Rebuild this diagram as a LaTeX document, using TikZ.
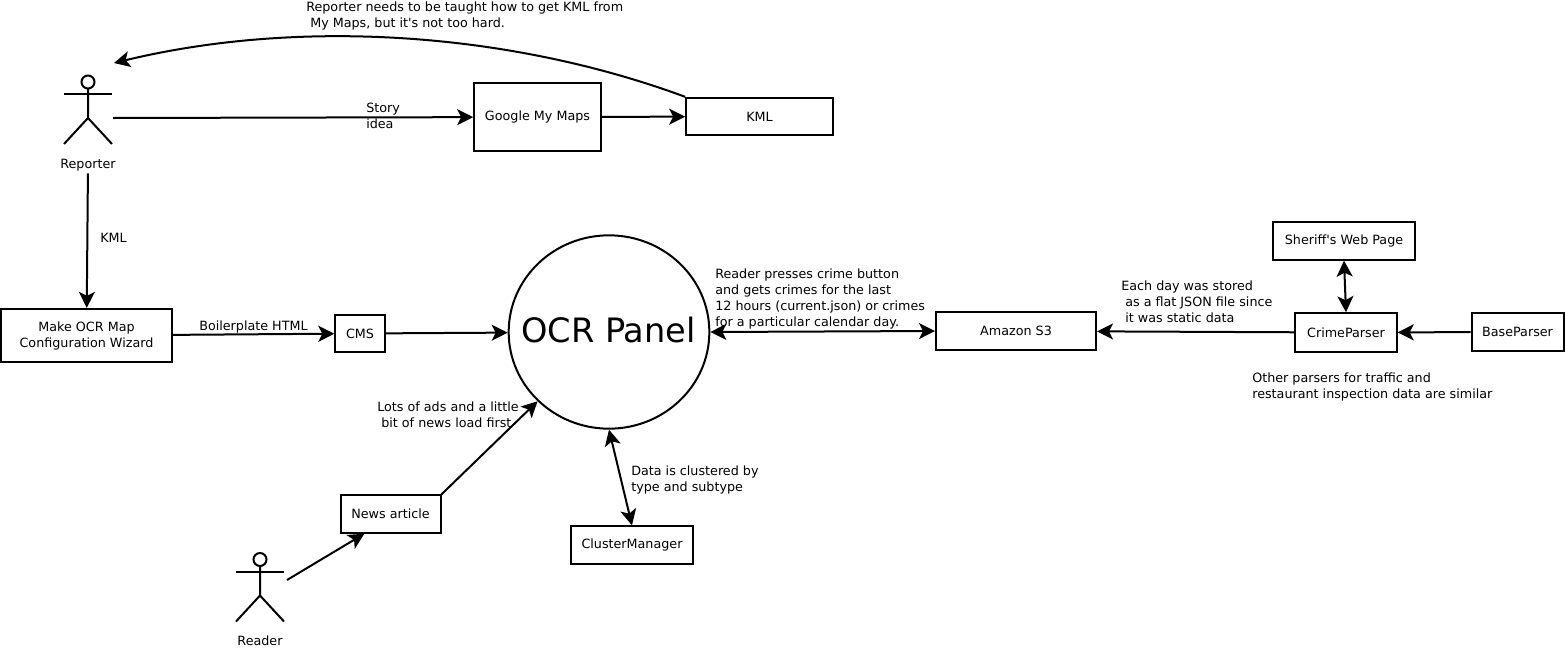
\documentclass[tikz,border=0pt]{standalone}
\usepackage{fontspec}
\setmainfont{DejaVu Sans}
\usetikzlibrary{arrows.meta, positioning, shapes.geometric}

\begin{document}
\begin{tikzpicture}[
    x=0.75pt, y=-0.75pt,
    font=\fontsize{9.55}{12}\selectfont,
    box/.style={rectangle, draw, line width=1.5pt, inner sep=0pt, align=center},
    note/.style={inner sep=0pt, anchor=north west, align=left},
    who/.style={inner sep=0pt, minimum width=60pt, minimum height=12pt},
    arrow/.style={-{Stealth[length=12pt, width=12pt, inset=3pt]}, line width=1.5pt},
    both/.style={{Stealth[length=12pt, width=12pt, inset=3pt]}-{Stealth[length=12pt, width=12pt, inset=3pt]}, line width=1.5pt},
    actor/.pic={
        \draw[line width=1.5pt] (0,-28) circle (6.5);
        \draw[line width=1.5pt] (-24,-16) -- (24,-16);
        \draw[line width=1.5pt] (0,-21.5) -- (0,8) (-24,34) -- (0,8) -- (24,34);
    }
]

\path[use as bounding box] (0,0) rectangle (1565,650);

\pic at (88,110) {actor};
\pic at (260,587.5) {actor};

\node[who] (reporter) at (88,165) {Reporter};
\node[who] (reader) at (260,640.5) {Reader};

\coordinate (reporterout) at (113,118);
\coordinate (reporterin) at (114,63);
\coordinate (readerout) at (287,580);

\node[box, minimum width=95pt, minimum height=51pt] (maps) at (537.5,117) {Google My Maps};
\node[box, minimum width=110pt, minimum height=28pt] (kml) at (759.5,116.5) {KML};
\node[box, minimum width=128pt, minimum height=40pt] (wizard) at (86.5,335.5) {Make OCR Map\\Configuration Wizard};
\node[box, minimum width=37pt, minimum height=28pt] (cms) at (360,333.5) {CMS};
\node[ellipse, draw, line width=1.5pt, inner sep=0pt, minimum width=150.5pt, minimum height=145pt] (ocr) at (609,332) {};
\node[inner sep=0pt, font=\fontsize{25.2}{30}\selectfont] (ocrlabel) at (608.5,329.5) {OCR Panel};
\node[box, minimum width=120pt, minimum height=28pt] (s3) at (1016,331) {Amazon S3};
\node[box, minimum width=76pt, minimum height=29pt] (crime) at (1346,332.5) {CrimeParser};
\node[box, minimum width=106pt, minimum height=28pt] (sheriff) at (1344,241) {Sheriff\textquotesingle s Web Page};
\node[box, minimum width=69pt, minimum height=28pt] (base) at (1517.5,332) {BaseParser};
\node[box, minimum width=75pt, minimum height=28pt] (news) at (390.5,514) {News article};
\node[box, minimum width=92pt, minimum height=28pt] (cluster) at (632,545) {ClusterManager};

\draw[arrow] (reporterout) -- (maps);
\draw[arrow] (maps) -- (kml);
\draw[arrow] (kml.north west) .. controls (510,32) and (300,18) .. (reporterin);
\draw[arrow] (reporter) -- (wizard);
\draw[arrow] (wizard) -- (cms);
\draw[arrow] (cms) -- (ocr);
\draw[arrow] (readerout) -- (news.217);
\draw[arrow] (news.north east) -- (ocr);
\draw[both] (ocr.south) -- (cluster.north);
\draw[both] (ocr.east) -- (s3.west);
\draw[arrow] (crime) -- (s3);
\draw[both] (sheriff.south) -- (crime.north);
\draw[arrow] (base) -- (crime);

\node[note] (notekml) at (306,2) {Reporter needs to be taught how to get KML from\\\hspace*{3pt}My Maps, but it\textquotesingle s not too hard.};
\node[note] (notestory) at (366,102.5) {Story\\idea};
\node[note] (notereporter) at (100,232.5) {KML};
\node[note] (notehtml) at (199,321) {Boilerplate HTML};
\node[note] (notecrime) at (715,269) {Reader presses crime button\\and gets crimes for the last\\12 hours (current.json) or crimes\\for a particular calendar day.};
\node[note] (notes3) at (1121,281) {Each day was stored\\\hspace*{3pt}as a flat JSON file since\\\hspace*{3pt}it was static data};
\node[note] (noteparsers) at (1252,373) {Other parsers for traffic and\\restaurant inspection data are similar};
\node[note] (noteads) at (377,402) {Lots of ads and a little\\\hspace*{3pt}bit of news load first};
\node[note] (notecluster) at (631,466) {Data is clustered by\\type and subtype};

\end{tikzpicture}
\end{document}
